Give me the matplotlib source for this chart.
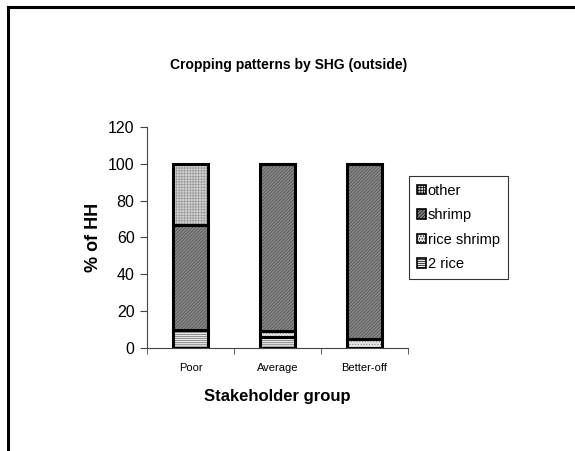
import matplotlib.pyplot as plt
from matplotlib.lines import Line2D

plt.rcParams['font.family'] = ['Liberation Sans', 'DejaVu Sans']
plt.rcParams['hatch.linewidth'] = 0.5

groups = ["Poor", "Average", "Better-off"]
series = ["2 rice", "rice shrimp", "shrimp", "other"]
two_rice = [10, 6, 0]
rice_shrimp = [0, 3, 5]
shrimp = [57, 91, 95]
other = [33, 0, 0]
values = [two_rice, rice_shrimp, shrimp, other]

faces = ["#e8e8e8", "#e4e4e4", "#8a8a8a", "#d4d4d4"]
hatch_col = ["#6a6a6a", "#8a8a8a", "#4a4a4a", "#9a9a9a"]
hatches = ["--------", "......", "//////////", "++++++"]

fig = plt.figure(figsize=(5.75, 4.51), dpi=100)
ax = fig.add_axes([0.2557, 0.2284, 0.4539, 0.49])

# outer frame: only top and left edges show
fig.add_artist(Line2D([0.0139, 0.0139], [0, 0.9845], color="black", lw=2.2, transform=fig.transFigure))
fig.add_artist(Line2D([0.0139, 1.0], [0.9845, 0.9845], color="black", lw=2.2, transform=fig.transFigure))

x = range(len(groups))
bottom = [0, 0, 0]
handles = []
for vals, lab, fc, hc, h in zip(values, series, faces, hatch_col, hatches):
    bars = ax.bar(x, vals, 0.4, bottom=bottom, facecolor=fc, edgecolor=hc,
                  hatch=h, linewidth=0, label=lab)
    # black outline drawn separately so the hatch can stay grey
    ax.bar(x, vals, 0.4, bottom=bottom, facecolor="none", edgecolor="black", linewidth=2.2)
    handles.append(bars)
    bottom = [b + v for b, v in zip(bottom, vals)]

ax.set_xlim(-0.5, 2.5)
ax.set_ylim(0, 120)
ax.set_yticks(range(0, 121, 20))
ax.set_xticks(x)
ax.set_xticklabels(groups, fontsize=8)
ax.set_xticks([-0.5, 0.5, 1.5, 2.5], minor=True)
ax.tick_params(axis="x", which="major", length=0, pad=11)
ax.tick_params(axis="x", which="minor", length=4, direction="out", color="#444444")
ax.tick_params(axis="y", labelsize=11.5, length=5, direction="out", color="#444444", pad=4)
for s in ["top", "right"]:
    ax.spines[s].set_visible(False)
ax.spines["left"].set_color("#444444")
ax.spines["bottom"].set_color("#444444")

ax.set_ylabel("% of HH", fontsize=13, fontweight="bold", labelpad=4)
ax.set_xlabel("Stakeholder group", fontsize=12, fontweight="bold", labelpad=11)
fig.text(0.502, 0.856, "Cropping patterns by SHG (outside)", fontsize=10,
         fontweight="bold", ha="center", va="center")

leg = ax.legend(handles[::-1], series[::-1], loc="upper left",
                bbox_to_anchor=(1.003, 0.78), fontsize=10.5, frameon=True,
                fancybox=False, edgecolor="black", handlelength=0.6,
                handleheight=0.6, handletextpad=0.15, labelspacing=0.72,
                borderpad=0.55, borderaxespad=0)
leg.get_frame().set_linewidth(0.8)
for p in leg.get_patches():
    p.set_edgecolor("black")
    p.set_linewidth(1.2)

fig.savefig("out.png", dpi=100)
